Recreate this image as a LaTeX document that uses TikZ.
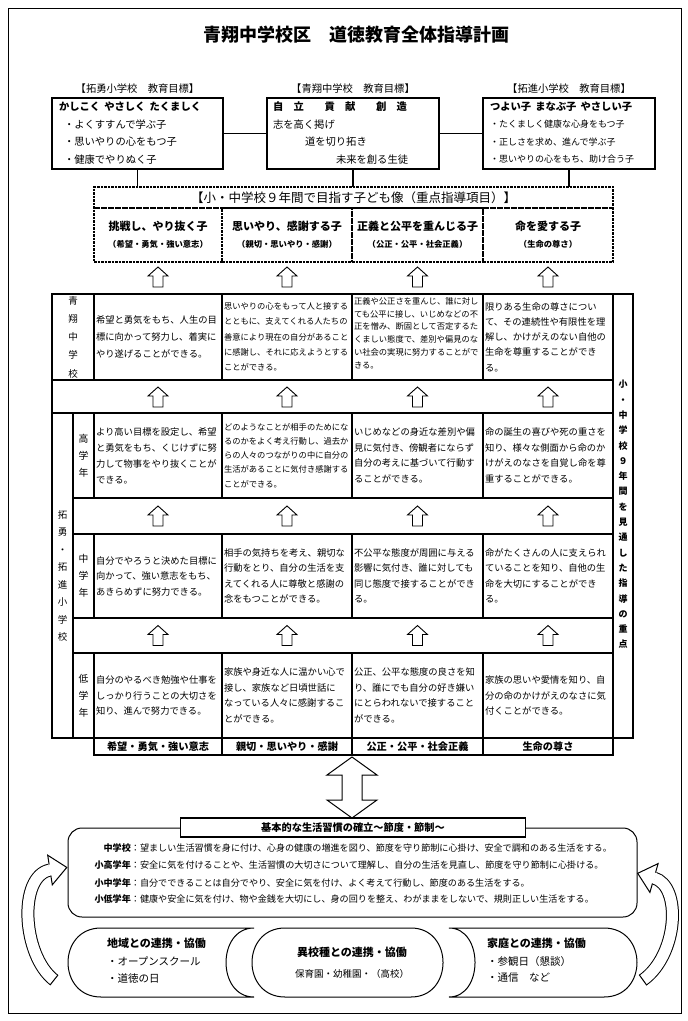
\documentclass[tikz,border=0pt]{standalone}
\usepackage{fontspec}
\setmainfont{Noto Sans CJK JP}
\newcommand\fsz[2]{\fontsize{#1}{#2}\selectfont}
\begin{document}
\begin{tikzpicture}[x=1pt,y=-1pt,
  every node/.style={inner sep=0pt, outer sep=0pt},
  goalbox/.style={draw, line width=2.2pt, minimum height=71pt},
  conn/.style={line width=1.5pt},
  dbox/.style={draw, line width=1.6pt, dash pattern=on 2.5pt off 1pt},
  outer/.style={line width=1.8pt},
  inner/.style={line width=1.1pt},
  tcell/.style={anchor=west, align=left, font=\fsz{9.3}{15.5}},
  tcells/.style={anchor=west, align=left, font=\fsz{8.3}{14.2}},
  vtext/.style={align=center, font=\fsz{9.5}{18.2}},
  gtext/.style={anchor=west, font=\fsz{10.3}{10.3}},
  uparr/.pic={\draw[line width=0.9pt, fill=white] (0,0) -- (10,9) -- (5,9) -- (5,20) -- (-5,20) -- (-5,9) -- (-10,9) -- cycle;}
]
\useasboundingbox (0,0) rectangle (688,1021);
\draw[line width=0.8pt] (8,8) rectangle (681,1013);

% title
\node[font=\fsz{18}{18}\bfseries] (title) at (356,35) {青翔中学校区　道徳教育全体指導計画};

% goal labels
\node[font=\fsz{10.3}{10.3}] (lL) at (137.5,89) {【拓勇小学校　教育目標】};
\node[font=\fsz{10.3}{10.3}] (lM) at (353,89) {【青翔中学校　教育目標】};
\node[font=\fsz{10.3}{10.3}] (lR) at (569,89) {【拓進小学校　教育目標】};

% goal boxes
\node[goalbox, minimum width=171pt] (gL) at (137.5,133.5) {};
\node[goalbox, minimum width=172pt] (gM) at (353,133.5) {};
\node[goalbox, minimum width=172pt] (gR) at (569,133.5) {};

\node[gtext, font=\fsz{10.3}{10.3}\bfseries] (gL0) at (59,107) {かしこく\hspace{0.4em}やさしく\hspace{0.4em}たくましく};
\node[gtext] (gL1) at (64,124.5) {・よくすすんで学ぶ子};
\node[gtext] (gL2) at (64,142) {・思いやりの心をもつ子};
\node[gtext] (gL3) at (64,159.5) {・健康でやりぬく子};

\node[gtext, font=\fsz{10.3}{10.3}\bfseries] (gM0) at (273,107) {自　立　　貢　献　　創　造};
\node[gtext] (gM1) at (273,124.5) {志を高く掲げ};
\node[gtext] (gM2) at (305,142) {道を切り拓き};
\node[gtext] (gM3) at (336,159.5) {未来を創る生徒};

\node[gtext, font=\fsz{10.3}{10.3}\bfseries] (gR0) at (490,107) {つよい子\hspace{0.4em}まなぶ子\hspace{0.4em}やさしい子};
\node[gtext, font=\fsz{9}{9}] (gR1) at (490,124.5) {・たくましく健康な心身をもつ子};
\node[gtext, font=\fsz{9}{9}] (gR2) at (490,142) {・正しさを求め、進んで学ぶ子};
\node[gtext, font=\fsz{9}{9}] (gR3) at (490,159.5) {・思いやりの心をもち、助け合う子};

% dashed box
\node[dbox, minimum width=519pt, minimum height=21pt, font=\fsz{12.5}{12.5}] (hdr) at (353.5,197.5) {【小・中学校９年間で目指す子ども像（重点指導項目）】};
\node[dbox, minimum width=128pt, minimum height=54pt] (k1) at (158,235) {};
\node[dbox, minimum width=130pt, minimum height=54pt] (k2) at (287,235) {};
\node[dbox, minimum width=131pt, minimum height=54pt] (k3) at (417.5,235) {};
\node[dbox, minimum width=130pt, minimum height=54pt] (k4) at (548,235) {};
\node[font=\fsz{11}{11}\bfseries] (k1a) at (158,226) {挑戦し、やり抜く子};
\node[font=\fsz{8.3}{8.3}\bfseries] (k1b) at (158,244) {（希望・勇気・強い意志）};
\node[font=\fsz{11}{11}\bfseries] (k2a) at (287,226) {思いやり、感謝する子};
\node[font=\fsz{8.3}{8.3}\bfseries] (k2b) at (287,244) {（親切・思いやり・感謝）};
\node[font=\fsz{11}{11}\bfseries] (k3a) at (417.5,226) {正義と公平を重んじる子};
\node[font=\fsz{8.3}{8.3}\bfseries] (k3b) at (417.5,244) {（公正・公平・社会正義）};
\node[font=\fsz{11}{11}\bfseries] (k4a) at (548,226) {命を愛する子};
\node[font=\fsz{8.3}{8.3}\bfseries] (k4b) at (548,244) {（生命の尊さ）};

% connectors
\draw[conn] (gL.east) -- (gM.west);
\draw[conn] (gM.east) -- (gR.west);
\draw[conn] (gL.south) -- (gL.south |- hdr.north);
\draw[conn] (gM.south) -- (gM.south |- hdr.north);
\draw[conn] (gR.south) -- (gR.south |- hdr.north);

% table grid
\draw[outer] (52,294) rectangle (613,380);
\foreach \cx in {94,222,352,483} \draw[inner] (\cx,294) -- (\cx,380);
\draw[outer] (52,380) -- (52,413);
\draw[outer] (52,413) rectangle (613,738);
\draw[inner] (73,413) -- (73,738);
\foreach \ra/\rb in {413/498,534/618,653/738} {
  \foreach \cx in {94,222,352,483} \draw[inner] (\cx,\ra) -- (\cx,\rb);
}
\foreach \ry in {498,534,618,653} \draw[inner] (73,\ry) -- (613,\ry);
\draw[outer] (613,294) rectangle (633,738);
\draw[outer] (94,738) rectangle (613,755);
\foreach \cx in {222,352,483} \draw[inner] (\cx,738) -- (\cx,755);

% small arrows
\foreach \cx in {158,287,417.5,548} {
  \foreach \ty in {267,387,506,625.5} { \pic at (\cx,\ty) {uparr}; }
}

% side labels
\node[vtext] (vS) at (73,337) {青\\翔\\中\\学\\校};
\node[vtext, font=\fsz{9.5}{17.5}] (vT) at (62.5,576) {拓\\勇\\・\\拓\\進\\小\\学\\校};
\node[vtext, font=\fsz{9.8}{16.8}] (gH) at (83.5,455.5) {高\\学\\年};
\node[vtext, font=\fsz{9.8}{16.8}] (gM) at (83.5,576) {中\\学\\年};
\node[vtext, font=\fsz{9.8}{16.8}] (gLo) at (83.5,695.5) {低\\学\\年};
\node[vtext, font=\fsz{9}{15.3}\bfseries] (vR) at (623,514.5) {小\\・\\中\\学\\校\\９\\年\\間\\を\\見\\通\\し\\た\\指\\導\\の\\重\\点};

% Seisho row
\node[tcell, font=\fsz{9.3}{17}] (s1) at (96,337) {希望と勇気をもち、人生の目\\標に向かって努力し、着実に\\やり遂げることができる。};
\node[tcells, font=\fsz{8.3}{15.3}] (s2) at (224,337) {思いやりの心をもって人と接する\\とともに、支えてくれる人たちの\\善意により現在の自分があること\\に感謝し、それに応えようとする\\ことができる。};
\node[tcells, font=\fsz{8.3}{12.8}] (s3) at (354,333) {正義や公正さを重んじ、誰に対し\\ても公平に接し、いじめなどの不\\正を憎み、断固として否定するた\\くましい態度で、差別や偏見のな\\い社会の実現に努力することがで\\きる。};
\node[tcell, font=\fsz{9.3}{15.3}] (s4) at (485,337) {限りある生命の尊さについ\\て、その連続性や有限性を理\\解し、かけがえのない自他の\\生命を尊重することができ\\る。};

% high grade
\node[tcell, font=\fsz{9.3}{16}] (h1) at (96,455.5) {より高い目標を設定し、希望\\と勇気をもち、くじけずに努\\力して物事をやり抜くことが\\できる。};
\node[tcells] (h2) at (224,455.5) {どのようなことが相手のためにな\\るのかをよく考え行動し、過去か\\らの人々のつながりの中に自分の\\生活があることに気付き感謝する\\ことができる。};
\node[tcell] (h3) at (354,455.5) {いじめなどの身近な差別や偏\\見に気付き、傍観者にならず\\自分の考えに基づいて行動す\\ることができる。};
\node[tcell] (h4) at (485,455.5) {命の誕生の喜びや死の重さを\\知り、様々な側面から命のか\\けがえのなさを自覚し命を尊\\重することができる。};

% middle grade
\node[tcell] (m1) at (96,576) {自分でやろうと決めた目標に\\向かって、強い意志をもち、\\あきらめずに努力できる。};
\node[tcell] (m2) at (224,576) {相手の気持ちを考え、親切な\\行動をとり、自分の生活を支\\えてくれる人に尊敬と感謝の\\念をもつことができる。};
\node[tcell] (m3) at (354,576) {不公平な態度が周囲に与える\\影響に気付き、誰に対しても\\同じ態度で接することができ\\る。};
\node[tcell] (m4) at (485,576) {命がたくさんの人に支えられ\\ていることを知り、自他の生\\命を大切にすることができ\\る。};

% low grade
\node[tcell] (l1) at (96,695.5) {自分のやるべき勉強や仕事を\\しっかり行うことの大切さを\\知り、進んで努力できる。};
\node[tcell] (l2) at (224,695.5) {家族や身近な人に温かい心で\\接し、家族など日頃世話に\\なっている人々に感謝するこ\\とができる。};
\node[tcell] (l3) at (354,695.5) {公正、公平な態度の良さを知\\り、誰にでも自分の好き嫌い\\にとらわれないで接すること\\ができる。};
\node[tcell] (l4) at (485,695.5) {家族の思いや愛情を知り、自\\分の命のかけがえのなさに気\\付くことができる。};

% label row
\node[font=\fsz{10.2}{10.2}\bfseries] (b1) at (158,746.5) {希望・勇気・強い意志};
\node[font=\fsz{10.2}{10.2}\bfseries] (b2) at (287,746.5) {親切・思いやり・感謝};
\node[font=\fsz{10.2}{10.2}\bfseries] (b3) at (417.5,746.5) {公正・公平・社会正義};
\node[font=\fsz{10.2}{10.2}\bfseries] (b4) at (548,746.5) {生命の尊さ};

% big double arrow
\draw[line width=1pt, fill=white] (352,757) -- (377,775) -- (362,775) -- (362,800) -- (377,800) -- (352,818) -- (327,800) -- (342,800) -- (342,775) -- (327,775) -- cycle;

% life habits box
\node[draw, line width=1pt, rounded corners=14pt, minimum width=569pt, minimum height=89pt] (life) at (352.5,872.5) {};
\node[draw, line width=1.8pt, fill=white, minimum width=345pt, minimum height=19pt, font=\fsz{10.2}{10.2}\bfseries] (lifeh) at (353,827.5) {基本的な生活習慣の確立～節度・節制～};
\node[anchor=east, font=\fsz{9.1}{9.1}] (la1) at (140,848) {\textbf{中学校}：};
\node[anchor=west, font=\fsz{9.1}{9.1}] (lb1) at (140,848) {望ましい生活習慣を身に付け、心身の健康の増進を図り、節度を守り節制に心掛け、安全で調和のある生活をする。};
\node[anchor=east, font=\fsz{9.1}{9.1}] (la2) at (140,865.5) {\textbf{小高学年}：};
\node[anchor=west, font=\fsz{9.1}{9.1}] (lb2) at (140,865.5) {安全に気を付けることや、生活習慣の大切さについて理解し、自分の生活を見直し、節度を守り節制に心掛ける。};
\node[anchor=east, font=\fsz{9.1}{9.1}] (la3) at (140,883) {\textbf{小中学年}：};
\node[anchor=west, font=\fsz{9.1}{9.1}] (lb3) at (140,883) {自分でできることは自分でやり、安全に気を付け、よく考えて行動し、節度のある生活をする。};
\node[anchor=east, font=\fsz{9.1}{9.1}] (la4) at (140,899.5) {\textbf{小低学年}：};
\node[anchor=west, font=\fsz{9.1}{9.1}] (lb4) at (140,899.5) {健康や安全に気を付け、物や金銭を大切にし、身の回りを整え、わがままをしないで、規則正しい生活をする。};

% bottom shapes
\draw[line width=1pt] (101,928) -- (254,928) .. controls (216.7,928) and (216.7,997) .. (254,997) -- (101,997) .. controls (57,997) and (57,928) .. (101,928) -- cycle;
\draw[line width=1pt] (285,928) -- (411,928) .. controls (453.7,928) and (453.7,997) .. (411,997) -- (285,997) .. controls (241,997) and (241,928) .. (285,928) -- cycle;
\draw[line width=1pt] (449,928) -- (604,928) .. controls (648,928) and (648,997) .. (604,997) -- (449,997) .. controls (483.7,997) and (483.7,928) .. (449,928) -- cycle;

\node[anchor=west, font=\fsz{11}{11}\bfseries] (c1a) at (107,943) {地域との連携・協働};
\node[anchor=west, font=\fsz{10.5}{10.5}] (c1b) at (107,961) {・オープンスクール};
\node[anchor=west, font=\fsz{10.5}{10.5}] (c1c) at (107,978) {・道徳の日};
\node[font=\fsz{11}{11}\bfseries] (c2a) at (352,952) {異校種との連携・協働};
\node[font=\fsz{9.5}{9.5}] (c2b) at (352,974) {保育園・幼稚園・（高校）};
\node[anchor=west, font=\fsz{11}{11}\bfseries] (c3a) at (487,943) {家庭との連携・協働};
\node[anchor=west, font=\fsz{10.5}{10.5}] (c3b) at (487,961) {・参観日（懇談）};
\node[anchor=west, font=\fsz{10.5}{10.5}] (c3c) at (487,978) {・通信　など};

% curved arrows (hollow)
\draw[line width=13pt] (54,980) .. controls (22,955) and (18,876) .. (50,870);
\draw[white, line width=11pt] (54,980) .. controls (22,955) and (18,876) .. (50,870);
\draw[line width=1pt] (58.0,974.9) -- (50.0,985.1);
\draw[line width=1pt, fill=white] (52.3,884.8) -- (66.8,867.4) -- (47.7,855.2) -- cycle;
\draw[white, line width=11pt] (49,870.15) -- (52,869.7);

\draw[line width=13pt] (643,980) .. controls (678,955) and (682,886) .. (654,878);
\draw[white, line width=11pt] (643,980) .. controls (678,955) and (682,886) .. (654,878);
\draw[line width=1pt] (646.8,985.3) -- (639.2,974.7);
\draw[line width=1pt, fill=white] (658.1,863.6) -- (637.7,873.3) -- (649.9,892.4) -- cycle;
\draw[white, line width=11pt] (655,878.3) -- (652.1,877.5);
\end{tikzpicture}
\end{document}
